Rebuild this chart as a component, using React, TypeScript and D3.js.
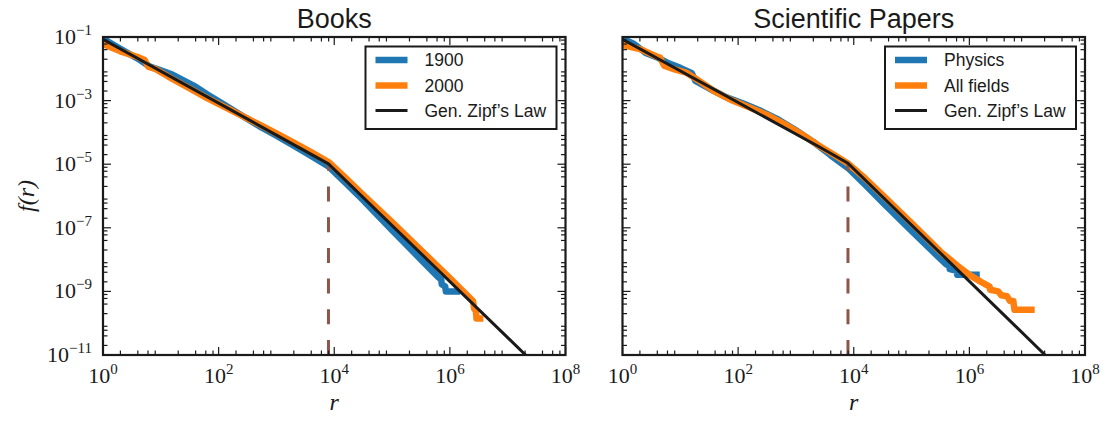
import React from "react";
import * as d3 from "d3";

// all series are [log10 r, log10 f(r)] pairs
const books1900: [number, number][] = [
  [0, -1.05], [0.3, -1.37], [0.6, -1.68], [0.8, -1.92], [1.0, -2.05], [1.2, -2.18],
  [1.4, -2.37], [1.6, -2.56], [1.8, -2.8], [2.1, -3.13], [2.4, -3.47], [2.7, -3.8],
  [3.0, -4.1], [3.3, -4.42], [3.6, -4.74], [3.9, -5.07], [4.2, -5.6], [4.5, -6.13],
  [5.0, -7.08], [5.5, -8.0], [5.8, -8.55], [5.85, -8.62], [5.86, -8.78], [5.9, -8.82],
  [5.92, -8.85], [5.93, -9.0], [6.18, -9.0],
];
const books2000: [number, number][] = [
  [0, -1.22], [0.3, -1.45], [0.6, -1.63], [0.72, -1.72], [0.78, -1.93], [0.9, -2.0],
  [1.2, -2.32], [1.5, -2.62], [1.8, -2.92], [2.1, -3.2], [2.4, -3.47], [2.7, -3.75],
  [3.0, -4.03], [3.3, -4.32], [3.6, -4.62], [3.9, -4.93], [4.2, -5.44], [4.5, -5.96],
  [5.0, -6.82], [5.5, -7.7], [6.0, -8.58], [6.3, -9.12], [6.4, -9.3], [6.42, -9.55],
  [6.45, -9.6], [6.46, -9.85], [6.58, -9.85],
];
const booksZipf: [number, number][] = [[0, -1.07], [3.9, -4.99], [7.31, -11]];

const papersPhysics: [number, number][] = [
  [0, -1.05], [0.2, -1.22], [0.4, -1.5], [0.6, -1.64], [0.8, -1.83], [1.0, -1.97],
  [1.2, -2.14], [1.26, -2.38], [1.5, -2.62], [1.8, -2.9], [2.1, -3.1], [2.4, -3.33],
  [2.7, -3.6], [3.0, -3.93], [3.3, -4.3], [3.6, -4.72], [3.9, -5.12], [4.2, -5.65],
  [4.5, -6.2], [5.0, -7.1], [5.5, -7.98], [5.6, -8.15], [5.65, -8.2], [5.66, -8.3],
  [5.78, -8.35], [5.79, -8.48], [6.18, -8.48],
];
const papersAll: [number, number][] = [
  [0, -1.25], [0.3, -1.38], [0.6, -1.62], [0.65, -1.65], [0.72, -1.9], [0.9, -2.02],
  [1.1, -2.12], [1.3, -2.35], [1.6, -2.72], [1.9, -3.0], [2.2, -3.22], [2.5, -3.45],
  [2.8, -3.74], [3.1, -4.06], [3.4, -4.42], [3.7, -4.75], [3.9, -4.98], [4.2, -5.45],
  [4.5, -5.97], [5.0, -6.85], [5.5, -7.75], [5.8, -8.2], [6.0, -8.48], [6.2, -8.7],
  [6.35, -8.85], [6.36, -8.95], [6.5, -9.0], [6.55, -9.12], [6.65, -9.15], [6.7, -9.3],
  [6.76, -9.3], [6.78, -9.58], [7.13, -9.58],
];
const papersZipf: [number, number][] = [[0, -1.07], [3.4, -4.45], [3.9, -4.97], [7.31, -11]];

const crossover = 3.9; // log10 r of the dashed line
const titles = ["Books", "Scientific Papers"];
const legendLabels = [["1900", "2000", "Gen. Zipf\u2019s Law"], ["Physics", "All fields", "Gen. Zipf\u2019s Law"]];
const xTickExps = [0, 2, 4, 6, 8];
const yTickExps = [-1, -3, -5, -7, -9, -11];

const BLUE = "#1f77b4";
const ORANGE = "#ff7f0e";
const BROWN = "#8c564b";
const INK = "#1a1a1a";

const TOP = 37;
const BOTTOM = 355;
const panelLeft = [103, 622.5];
const PW = 462.5;

const serif = "'Liberation Serif', 'DejaVu Serif', serif";
const sans = "'Liberation Sans', Arial, sans-serif";

function Panel({ idx }: { idx: number }) {
  const x0 = panelLeft[idx];
  const x = d3.scaleLog().domain([1, 1e8]).range([x0, x0 + PW]);
  const y = d3.scaleLog().domain([1e-11, 1e-1]).range([BOTTOM, TOP]);
  const line = d3
    .line<[number, number]>()
    .x((d) => x(10 ** d[0]))
    .y((d) => y(10 ** d[1]));
  const data = idx === 0 ? [books1900, books2000, booksZipf] : [papersPhysics, papersAll, papersZipf];
  const zipf = data[2];
  const kink = zipf[zipf.length - 2];

  const minorX: number[] = [];
  for (let e = 0; e < 8; e++) for (const s of [2, 4, 6, 8]) minorX.push(s * 10 ** e);
  const minorY: number[] = [];
  for (let e = -11; e < -1; e++) for (const s of [2, 4, 6, 8]) minorY.push(s * 10 ** e);
  const majorY = d3.range(-11, 0).filter((e) => e % 2 !== 0);
  const clipId = `clip${idx}`;

  const lgRight = x0 + PW - 9;
  const lgLeft = lgRight - 191;
  const lgTop = 46.5;
  const rows = [60, 85.5, 110.5];

  return (
    <g>
      <defs>
        <clipPath id={clipId}>
          <rect x={x0} y={TOP} width={PW} height={BOTTOM - TOP} />
        </clipPath>
      </defs>
      <text x={x0 + PW / 2} y={28} textAnchor="middle" fontFamily={sans} fontSize={27} fill={INK}>
        {titles[idx]}
      </text>
      <g clipPath={`url(#${clipId})`} fill="none" strokeLinejoin="round">
        <path d={line(data[0])!} stroke={BLUE} strokeWidth={6.5} />
        <path d={line(data[1])!} stroke={ORANGE} strokeWidth={6.5} />
        <line
          x1={x(10 ** crossover)}
          x2={x(10 ** crossover)}
          y1={BOTTOM}
          y2={y(10 ** kink[1])}
          stroke={BROWN}
          strokeWidth={3}
          strokeDasharray="15 15.7"
        />
        <path d={line(zipf)!} stroke={INK} strokeWidth={3} />
      </g>
      {/* ticks */}
      <g stroke={INK} strokeWidth={1.2}>
        {xTickExps.map((e) => (
          <g key={`xm${e}`}>
            <line x1={x(10 ** e)} x2={x(10 ** e)} y1={BOTTOM} y2={BOTTOM - 8} />
            <line x1={x(10 ** e)} x2={x(10 ** e)} y1={TOP} y2={TOP + 8} />
          </g>
        ))}
        {minorX.map((v, i) => (
          <g key={`xn${i}`}>
            <line x1={x(v)} x2={x(v)} y1={BOTTOM} y2={BOTTOM - 4.5} />
            <line x1={x(v)} x2={x(v)} y1={TOP} y2={TOP + 4.5} />
          </g>
        ))}
        {majorY.map((e) => (
          <g key={`ym${e}`}>
            <line x1={x0} x2={x0 + 8} y1={y(10 ** e)} y2={y(10 ** e)} />
            <line x1={x0 + PW} x2={x0 + PW - 8} y1={y(10 ** e)} y2={y(10 ** e)} />
          </g>
        ))}
        {minorY.map((v, i) => (
          <g key={`yn${i}`}>
            <line x1={x0} x2={x0 + 4.5} y1={y(v)} y2={y(v)} />
            <line x1={x0 + PW} x2={x0 + PW - 4.5} y1={y(v)} y2={y(v)} />
          </g>
        ))}
      </g>
      <rect x={x0} y={TOP} width={PW} height={BOTTOM - TOP} fill="none" stroke={INK} strokeWidth={2.2} />
      {/* tick labels */}
      {xTickExps.map((e) => (
        <text key={`xl${e}`} x={x(10 ** e)} y={383} textAnchor="middle" fontFamily={serif} fontSize={22} fill={INK}>
          10<tspan dy={-9} fontSize={15}>{e}</tspan>
        </text>
      ))}
      {idx === 0 &&
        yTickExps.map((e) => (
          <text key={`yl${e}`} x={92} y={y(10 ** e) + 7} textAnchor="end" fontFamily={serif} fontSize={22} fill={INK}>
            10<tspan dy={-9} fontSize={15}>{`\u2212${-e}`}</tspan>
          </text>
        ))}
      <text x={x0 + PW / 2} y={410} textAnchor="middle" fontFamily={serif} fontStyle="italic" fontSize={24} fill={INK}>
        r
      </text>
      {/* legend */}
      <rect x={lgLeft} y={lgTop} width={191} height={82.5} fill="white" stroke={INK} strokeWidth={2} />
      {[BLUE, ORANGE, INK].map((c, i) => (
        <g key={`lg${i}`}>
          <line x1={lgLeft + 10} x2={lgLeft + 42} y1={rows[i]} y2={rows[i]} stroke={c} strokeWidth={i < 2 ? 6.5 : 3} />
          <text x={lgLeft + 59} y={rows[i] + 6} fontFamily={sans} fontSize={17.5} fill={INK}>
            {legendLabels[idx][i]}
          </text>
        </g>
      ))}
    </g>
  );
}

export default function App() {
  return (
    <svg width={1108} height={421} style={{ position: "absolute", left: 0, top: 0, background: "white" }}>
      <rect width={1108} height={421} fill="white" />
      <Panel idx={0} />
      <Panel idx={1} />
      <text
        transform={`translate(34, ${(TOP + BOTTOM) / 2}) rotate(-90)`}
        textAnchor="middle"
        fontFamily={serif}
        fontStyle="italic"
        fontSize={24}
        fill={INK}
      >
        f(r)
      </text>
    </svg>
  );
}
